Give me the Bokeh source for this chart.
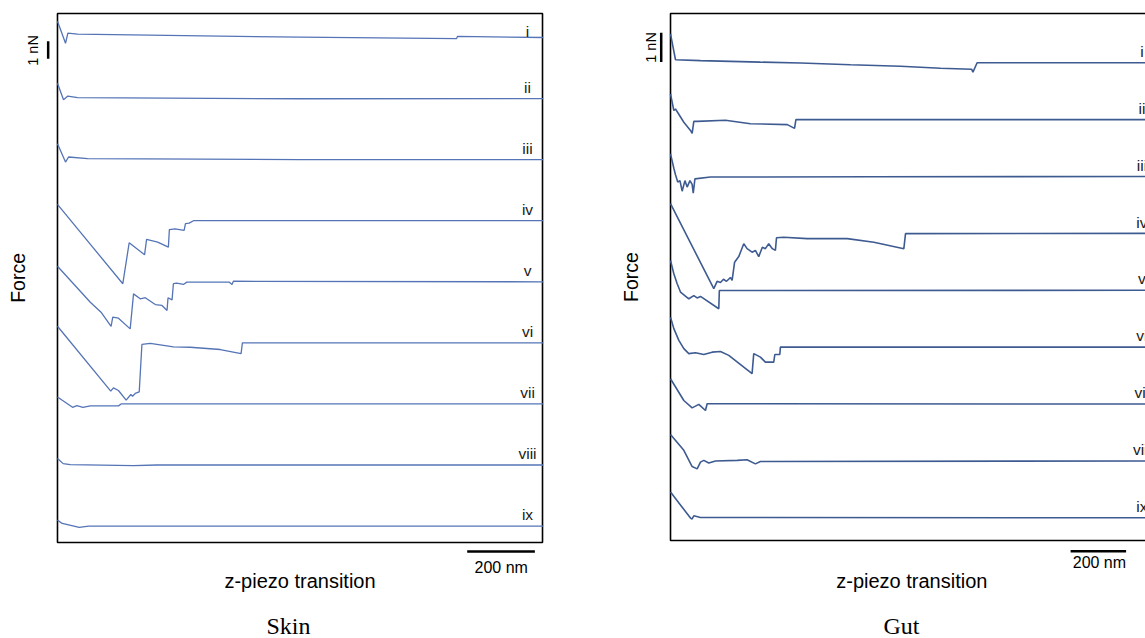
from bokeh.plotting import figure
from bokeh.models import Range1d, Label, Arrow, BoxAnnotation, ColumnDataSource
from bokeh.layouts import row
from bokeh.core.properties import value
from bokeh.embed import file_html
from bokeh.resources import INLINE

# ---------------- data ----------------
curve_labels = ["i", "ii", "iii", "iv", "v", "vi", "vii", "viii", "ix"]

# Skin: z-piezo position (nm) and force (nN, relative to the free baseline)
skin_i_z = [0, 24, 31, 60, 725, 1191, 1194, 1450]
skin_i_f = [0.93, -0.33, 0.25, 0.19, 0.02, -0.07, 0.06, 0.0]
skin_ii_z = [0, 18, 31, 60, 725, 1450]
skin_ii_f = [0.88, -0.07, 0.14, 0.05, -0.01, 0.0]
skin_iii_z = [0, 24, 33, 90, 725, 1450]
skin_iii_f = [0.91, -0.14, 0.15, 0.06, 0.0, 0.0]
skin_iv_z = [0, 195, 214, 260, 266, 299, 331, 334, 351, 378, 382, 393, 406, 1450]
skin_iv_f = [0.93, -3.60, -1.26, -1.94, -1.07, -1.22, -1.51, -0.51, -0.46, -0.55, -0.17, -0.14, 0.0, 0.0]
skin_v_z = [0, 98, 130, 160, 165, 182, 217, 227, 247, 262, 292, 312, 327, 330, 342, 346, 356, 376, 386, 513, 521, 525, 1450]
skin_v_f = [0.89, -1.17, -1.74, -2.55, -2.02, -2.08, -2.69, -0.69, -0.97, -0.91, -1.30, -1.35, -1.64, -0.91, -1.03, -0.11, -0.08, -0.15, -0.02, -0.02, -0.15, 0.03, 0.0]
skin_vi_z = [0, 159, 167, 182, 205, 219, 224, 232, 244, 252, 277, 346, 396, 486, 548, 552, 1450]
skin_vi_f = [0.95, -2.76, -2.57, -2.72, -3.27, -2.95, -3.05, -2.89, -2.80, -0.09, -0.03, -0.23, -0.25, -0.38, -0.61, 0.0, 0.0]
skin_vii_z = [0, 45, 58, 76, 98, 182, 190, 1450]
skin_vii_f = [0.40, -0.19, -0.10, -0.19, -0.11, -0.11, 0.0, 0.0]
skin_viii_z = [0, 17, 38, 227, 296, 1450]
skin_viii_f = [0.37, 0.08, 0.02, -0.03, 0.0, 0.0]
skin_ix_z = [0, 14, 65, 93, 1450]
skin_ix_f = [0.34, 0.15, -0.07, 0.0, 0.0]

# Gut
gut_i_z = [0, 18, 108, 324, 469, 649, 829, 973, 1085, 1090, 1105, 1750]
gut_i_f = [0.98, 0.10, 0.07, 0.02, -0.01, -0.07, -0.12, -0.19, -0.22, -0.32, 0.0, 0.0]
gut_ii_z = [0, 12, 18, 48, 72, 78, 84, 96, 198, 288, 421, 447, 452, 1750]
gut_ii_f = [0.87, 0.31, 0.36, -0.09, -0.37, -0.47, -0.06, -0.06, -0.02, -0.14, -0.17, -0.30, 0.0, 0.0]
gut_iii_z = [0, 12, 18, 26, 34, 42, 52, 60, 70, 78, 82, 88, 144, 721, 1750]
gut_iii_f = [0.77, 0.28, 0.06, -0.19, -0.14, -0.50, -0.14, -0.36, -0.14, -0.27, -0.57, -0.08, -0.02, -0.01, 0.0]
gut_iv_z = [0, 156, 168, 180, 191, 202, 216, 222, 231, 246, 264, 276, 294, 306, 318, 331, 342, 354, 367, 378, 382, 408, 493, 637, 733, 841, 847, 1750]
gut_iv_f = [1.01, -1.88, -1.63, -1.67, -1.56, -1.63, -1.50, -1.60, -0.98, -0.79, -0.35, -0.52, -0.64, -0.58, -0.79, -0.47, -0.52, -0.35, -0.52, -0.58, -0.15, -0.13, -0.18, -0.18, -0.30, -0.52, -0.01, 0.0]
gut_v_z = [0, 12, 24, 36, 66, 84, 96, 108, 174, 176, 1750]
gut_v_f = [1.01, 0.56, 0.22, -0.06, -0.29, -0.18, -0.26, -0.21, -0.63, -0.01, 0.0]
gut_vi_z = [0, 12, 30, 48, 66, 90, 120, 150, 180, 210, 294, 300, 324, 342, 372, 376, 394, 396, 1750]
gut_vi_f = [1.02, 0.63, 0.23, -0.05, -0.22, -0.19, -0.25, -0.17, -0.15, -0.28, -0.90, -0.22, -0.34, -0.51, -0.51, -0.25, -0.25, 0.0, 0.0]
gut_vii_z = [0, 48, 78, 102, 126, 132, 1750]
gut_vii_f = [0.86, 0.12, -0.13, -0.01, -0.22, 0.01, 0.0]
gut_viii_z = [0, 48, 78, 96, 108, 120, 138, 162, 240, 276, 306, 324, 1750]
gut_viii_f = [0.90, 0.36, -0.19, -0.27, -0.04, 0.02, -0.07, 0.0, 0.02, 0.04, -0.10, -0.02, 0.0]
gut_ix_z = [0, 72, 78, 84, 108, 1750]
gut_ix_f = [0.88, -0.01, -0.04, 0.07, 0.01, 0.0]

skin_curves = [(skin_i_z, skin_i_f), (skin_ii_z, skin_ii_f), (skin_iii_z, skin_iii_f),
               (skin_iv_z, skin_iv_f), (skin_v_z, skin_v_f), (skin_vi_z, skin_vi_f),
               (skin_vii_z, skin_vii_f), (skin_viii_z, skin_viii_f), (skin_ix_z, skin_ix_f)]
gut_curves = [(gut_i_z, gut_i_f), (gut_ii_z, gut_ii_f), (gut_iii_z, gut_iii_f),
              (gut_iv_z, gut_iv_f), (gut_v_z, gut_v_f), (gut_vi_z, gut_vi_f),
              (gut_vii_z, gut_vii_f), (gut_viii_z, gut_viii_f), (gut_ix_z, gut_ix_f)]

SANS = "Liberation Sans"
SERIF = "Liberation Serif"
H = 638


def panel(curves, width, xr, yr, box, step, color, lw, label_x, label_dy,
          bar_x, bar_y, bar_txt, nn_x, nn_y, nn_txt, force_xy, xlab_xy, cap_xy, caption):
    p = figure(width=width, height=H, x_range=Range1d(*xr), y_range=Range1d(*yr),
               output_backend="svg", toolbar_location=None,
               min_border_left=0, min_border_right=0, min_border_top=0, min_border_bottom=0)
    p.axis.visible = False
    p.grid.visible = False
    p.outline_line_color = None
    p.background_fill_color = "white"
    p.border_fill_color = "white"

    # plot box (frame of the stacked curves)
    p.add_layout(BoxAnnotation(left=box[0], right=box[1], bottom=box[2], top=box[3],
                               fill_alpha=0, line_color="black", line_width=1.6,
                               line_alpha=1.0, level="underlay"))

    lx, ly = [], []
    for k, (z, f) in enumerate(curves):
        off = -step * k
        src = ColumnDataSource(dict(z=z, y=[v + off for v in f]))
        p.line("z", "y", source=src, line_color=color, line_width=lw)
        lx.append(label_x)
        ly.append(off + label_dy[k])
    p.text(x=lx, y=ly, text=curve_labels, text_font=value(SANS),
           text_font_size=value("15.5px"), text_align="center",
           text_baseline="middle", text_color="#1a1a1a")

    # 200 nm scale bar
    p.add_layout(Arrow(end=None, x_start=bar_x[0], y_start=bar_y, x_end=bar_x[1], y_end=bar_y,
                       line_color="black", line_width=2.5))
    p.add_layout(Label(x=bar_txt[0], y=bar_txt[1], text="200 nm", text_font=SANS,
                       text_font_size="16px", text_align="center",
                       text_baseline="middle", text_color="black"))
    # 1 nN scale bar
    p.add_layout(Arrow(end=None, x_start=nn_x, y_start=nn_y[0], x_end=nn_x, y_end=nn_y[1],
                       line_color="black", line_width=2.5))
    p.add_layout(Label(x=nn_txt[0], y=nn_txt[1], text="1 nN", angle=1.5708, text_font=SANS,
                       text_font_size="14.5px", text_align="center",
                       text_baseline="middle", text_color="black"))
    # axis titles
    p.add_layout(Label(x=force_xy[0], y=force_xy[1], text="Force", angle=1.5708,
                       text_font=SANS, text_font_size="19.5px", text_align="center",
                       text_baseline="middle", text_color="black"))
    p.add_layout(Label(x=xlab_xy[0], y=xlab_xy[1], text="z-piezo transition",
                       text_font=SANS, text_font_size="20px", text_align="center",
                       text_baseline="middle", text_color="black"))
    # caption
    p.add_layout(Label(x=cap_xy[0], y=cap_xy[1], text=caption, text_font=SERIF,
                       text_font_size="24px", text_align="center",
                       text_baseline="middle", text_color="black"))
    return p


skin = panel(skin_curves, width=600,
             xr=(-170.1, 1620.9), yr=(-34.343, 2.114), box=(0, 1447.8, -28.857, 1.371),
             step=3.49, color="#5574b6", lw=1.3, label_x=1403,
             label_dy=[0.36] + [0.646] * 8,
             bar_x=(1223, 1425), bar_y=-29.37, bar_txt=(1324.4, -30.29),
             nn_x=-27.8, nn_y=(-0.21, -1.21), nn_txt=(-73.1, -0.74),
             force_xy=(-117.4, -13.74), xlab_xy=(723.9, -31.06),
             cap_xy=(689.5, -33.65), caption="Skin")

gut = panel(gut_curves, width=545,
            xr=(-252.3, 1711.9), yr=(-19.585, 2.116), box=(0, 1740.7, -16.252, 1.673),
            step=1.935, color="#3e5b91", lw=1.6, label_x=1699,
            label_dy=[0.384] * 9,
            bar_x=(1442, 1642), bar_y=-16.62, bar_txt=(1545.8, -17.01),
            nn_x=-33.5, nn_y=(0.02, 1.02), nn_txt=(-70.3, 0.52),
            force_xy=(-140.6, -7.29), xlab_xy=(869.7, -17.63),
            cap_xy=(832.5, -19.17), caption="Gut")

layout = row(skin, gut)
open("out.html", "w").write(file_html(layout, INLINE))
